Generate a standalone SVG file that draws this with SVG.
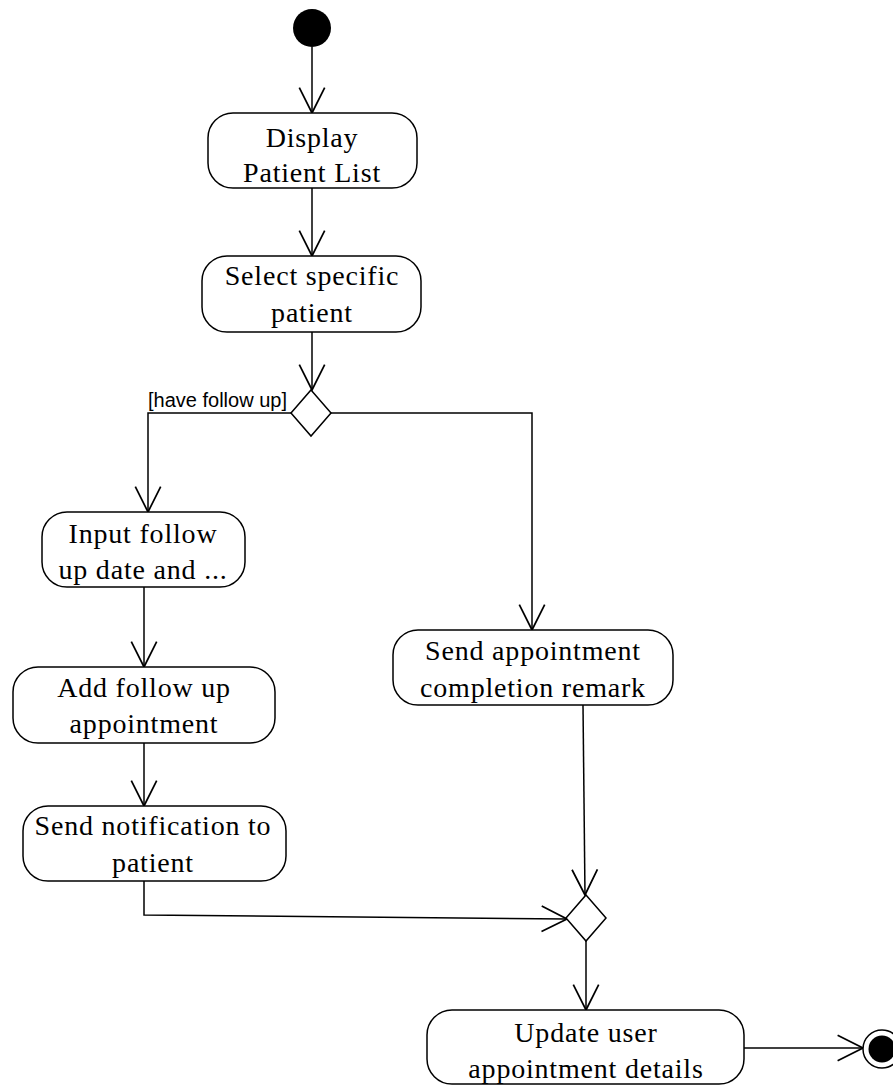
<svg xmlns="http://www.w3.org/2000/svg" width="893" height="1085" viewBox="0 0 893 1085">
  <style>
    .act { fill: #ffffff; stroke: #000000; stroke-width: 1.5; }
    .lbl { font-family: "Liberation Serif", "Times New Roman", serif; font-size: 28px; letter-spacing: 0.8px; fill: #000000; text-anchor: middle; }
    .guard { font-family: "Liberation Sans", Arial, sans-serif; font-size: 20px; fill: #000000; }
    .flow { fill: none; stroke: #000000; stroke-width: 1.5; marker-end: url(#open); }
    .dec { fill: #ffffff; stroke: #000000; stroke-width: 1.5; }
  </style>
  <defs>
    <marker id="open" markerUnits="userSpaceOnUse" markerWidth="30" markerHeight="30" viewBox="-24 -13 26 26" refX="0" refY="0" orient="auto">
      <path d="M -22 -11 L 0 0 L -22 11" fill="none" stroke="#000000" stroke-width="1.5"/>
    </marker>
  </defs>

  <rect width="893" height="1085" fill="#ffffff"/>

  <!-- control flows -->
  <g id="connectors">
    <path class="flow" d="M 312 47 L 312 113"/>
    <path class="flow" d="M 312 188 L 312 256"/>
    <path class="flow" d="M 312 332 L 312 390"/>
    <path class="flow" d="M 291 413 L 148 413 L 148 512"/>
    <path class="flow" d="M 331 413 L 532 413 L 532 630"/>
    <path class="flow" d="M 144 587 L 144 667"/>
    <path class="flow" d="M 144 743 L 144 806"/>
    <path class="flow" d="M 144 881 L 144 915 L 567 919"/>
    <path class="flow" d="M 583 705 L 585 895"/>
    <path class="flow" d="M 586 941 L 586 1010"/>
    <path class="flow" d="M 744 1048 L 863 1048"/>
  </g>

  <g id="initial">
    <circle cx="312" cy="28" r="19" fill="#000000"/>
  </g>

  <g id="display-patient-list">
    <rect class="act" x="208" y="113" width="209" height="75" rx="25" ry="25"/>
    <text class="lbl" x="312" y="147">Display</text>
    <text class="lbl" x="312" y="182">Patient List</text>
  </g>

  <g id="select-patient">
    <rect class="act" x="202" y="256" width="219" height="76" rx="25" ry="25"/>
    <text class="lbl" x="312" y="285">Select specific</text>
    <text class="lbl" x="312" y="322">patient</text>
  </g>

  <g id="decision-follow-up">
    <polygon class="dec" points="311,390 331,413 311,436 291,413"/>
    <text class="guard" x="148" y="407">[have follow up]</text>
  </g>

  <g id="input-follow-up">
    <rect class="act" x="42" y="512" width="203" height="75" rx="25" ry="25"/>
    <text class="lbl" x="143" y="543">Input follow</text>
    <text class="lbl" x="143" y="579">up date and ...</text>
  </g>

  <g id="add-follow-up">
    <rect class="act" x="13" y="667" width="262" height="76" rx="25" ry="25"/>
    <text class="lbl" x="144" y="697">Add follow up</text>
    <text class="lbl" x="144" y="733">appointment</text>
  </g>

  <g id="send-notification">
    <rect class="act" x="23" y="806" width="263" height="75" rx="25" ry="25"/>
    <text class="lbl" x="153" y="835">Send notification to</text>
    <text class="lbl" x="153" y="872">patient</text>
  </g>

  <g id="send-completion-remark">
    <rect class="act" x="393" y="630" width="280" height="75" rx="25" ry="25"/>
    <text class="lbl" x="533" y="660">Send appointment</text>
    <text class="lbl" x="533" y="697">completion remark</text>
  </g>

  <g id="merge">
    <polygon class="dec" points="586,895 606,918 586,941 566,918"/>
  </g>

  <g id="update-details">
    <rect class="act" x="427" y="1010" width="317" height="74" rx="25" ry="25"/>
    <text class="lbl" x="586" y="1042">Update user</text>
    <text class="lbl" x="586" y="1078">appointment details</text>
  </g>

  <g id="final">
    <circle cx="882" cy="1049" r="19" fill="#ffffff" stroke="#000000" stroke-width="1.5"/>
    <circle cx="882" cy="1049" r="13.5" fill="#000000"/>
  </g>
</svg>
